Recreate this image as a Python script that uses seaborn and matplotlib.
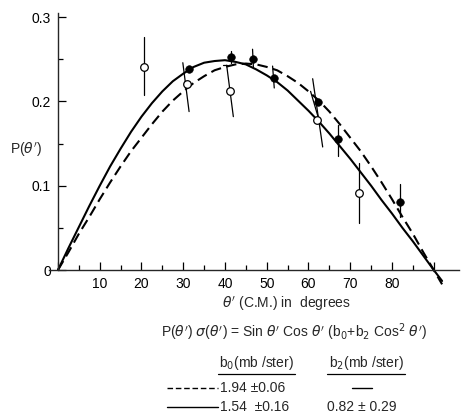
"""Angular distribution P(theta') with two fitted curves."""
import matplotlib.pyplot as plt
from matplotlib.lines import Line2D
import pandas as pd
import seaborn as sns

# fitted curves
theta_curve = [0, 2.5, 5, 7.5, 10, 12.5, 15, 17.5, 20, 22.5, 25, 27.5, 30, 32.5,
               35, 37.5, 40, 42.5, 45, 47.5, 50, 52.5, 55, 57.5, 60, 62.5, 65,
               67.5, 70, 72.5, 75, 77.5, 80, 82.5, 85, 87.5, 90, 92]
p_solid = [0, 0.026, 0.051, 0.076, 0.100, 0.123, 0.144, 0.164, 0.182, 0.198,
           0.212, 0.224, 0.233, 0.241, 0.246, 0.248, 0.249, 0.247, 0.244, 0.238,
           0.231, 0.223, 0.213, 0.201, 0.189, 0.176, 0.162, 0.147, 0.132, 0.116,
           0.100, 0.083, 0.067, 0.050, 0.034, 0.017, 0, -0.013]
p_dashed = [0, 0.021, 0.043, 0.063, 0.084, 0.104, 0.123, 0.141, 0.157, 0.173,
            0.188, 0.201, 0.212, 0.222, 0.230, 0.237, 0.241, 0.244, 0.245, 0.244,
            0.241, 0.237, 0.230, 0.222, 0.212, 0.201, 0.188, 0.173, 0.157, 0.141,
            0.123, 0.104, 0.084, 0.063, 0.043, 0.021, 0, -0.017]

# measured points
theta_open = [20.6, 30.9, 41.2, 62.0, 72.0]
p_open = [0.241, 0.221, 0.213, 0.178, 0.091]
theta_filled = [31.3, 41.4, 46.7, 51.7, 62.3, 67.0, 81.8]
p_filled = [0.238, 0.253, 0.250, 0.228, 0.199, 0.155, 0.081]

# error segments: (theta top, P top) -> (theta bottom, P bottom)
err_theta_top = [20.6, 29.9, 40.4, 39.6, 41.4, 46.6, 51.4, 61.0, 60.5, 67.0, 72.0, 81.8]
err_p_top = [0.276, 0.246, 0.243, 0.243, 0.260, 0.262, 0.242, 0.227, 0.212, 0.172, 0.127, 0.102]
err_theta_bot = [20.6, 31.4, 42.0, 40.6, 41.4, 46.8, 51.8, 63.4, 62.7, 67.0, 72.0, 81.8]
err_p_bot = [0.208, 0.188, 0.182, 0.243, 0.246, 0.241, 0.216, 0.146, 0.175, 0.135, 0.056, 0.063]

x_ticks = [0, 10, 20, 30, 40, 50, 60, 70, 80, 90]
x_labels = ["", "10", "20", "30", "40", "50", "60", "70", "80", ""]
y_ticks = [0, 0.1, 0.2, 0.3]
y_labels = ["0", "0.1", "0.2", "0.3"]

sns.set_theme(style="ticks")
plt.rcParams["font.family"] = ["Liberation Sans", "DejaVu Sans"]
plt.rcParams["mathtext.fontset"] = "dejavusans"

curves = pd.DataFrame({
    "theta": theta_curve * 2,
    "P": p_solid + p_dashed,
    "fit": ["b0+b2"] * len(theta_curve) + ["b0"] * len(theta_curve),
})

fig = plt.figure(figsize=(4.61, 4.17), dpi=100)
ax = fig.add_axes([48.8 / 461, 147 / 417, 410 / 461, 257 / 417])

sns.lineplot(data=curves, x="theta", y="P", style="fit",
             dashes={"b0+b2": "", "b0": (5, 2.6)}, color="black",
             linewidth=1.5, legend=False, sort=False, ax=ax)
for line in ax.lines:
    line.set_clip_on(False)

for xt, yt, xb, yb in zip(err_theta_top, err_p_top, err_theta_bot, err_p_bot):
    ax.plot([xt, xb], [yt, yb], color="black", lw=0.9, clip_on=False)

sns.scatterplot(x=theta_filled, y=p_filled, color="black", edgecolor="black",
                s=30, zorder=3, ax=ax)
sns.scatterplot(x=theta_open, y=p_open, color="white", edgecolor="black",
                linewidth=0.9, s=30, zorder=3, ax=ax)

ax.set_xlim(-2.2, 96)
ax.set_ylim(0, 0.305)
ax.spines["left"].set_position(("data", 0))
ax.spines["top"].set_visible(False)
ax.spines["right"].set_visible(False)
for s in ("left", "bottom"):
    ax.spines[s].set_linewidth(1.0)
ax.set_xticks(x_ticks, x_labels)
ax.set_xticks([5, 15, 25, 35, 45, 55, 65, 75, 85], minor=True)
ax.set_yticks(y_ticks, y_labels)
ax.set_yticks([0.05, 0.15, 0.25], minor=True)
ax.tick_params(which="both", direction="in", color="black", width=0.9,
               labelsize=10, labelcolor="black")
ax.tick_params(which="major", length=6, pad=5)
ax.tick_params(which="minor", length=3.5)
ax.set_xlabel("")
ax.set_ylabel("")

fig.text(26 / 461, 1 - 150 / 417, r"P($\theta'$)", fontsize=10,
         ha="center", va="center")
fig.text(286 / 461, 1 - 304 / 417, r"$\theta'$ (C.M.) in  degrees",
         fontsize=10, ha="center", va="center")
fig.text(294 / 461, 1 - 332 / 417,
         r"P($\theta'$) $\sigma$($\theta'$) = Sin $\theta'$ Cos $\theta'$"
         r" (b$_0$+b$_2$ Cos$^2$ $\theta'$)",
         fontsize=10, ha="center", va="center")

# fit parameter table
fig.text(256 / 461, 1 - 363 / 417, r"b$_0$(mb /ster)", fontsize=10,
         ha="center", va="center")
fig.text(366 / 461, 1 - 363 / 417, r"b$_2$(mb /ster)", fontsize=10,
         ha="center", va="center")
for x0, x1 in ((218, 295), (327, 405)):
    fig.add_artist(Line2D([x0 / 461, x1 / 461], [1 - 374 / 417] * 2,
                          color="black", lw=0.9))
fig.add_artist(Line2D([167 / 461, 218 / 461], [1 - 388 / 417] * 2,
                      color="black", lw=1.0, dashes=(4, 2)))
fig.add_artist(Line2D([167 / 461, 218 / 461], [1 - 407 / 417] * 2,
                      color="black", lw=1.0))
fig.add_artist(Line2D([352 / 461, 372 / 461], [1 - 388 / 417] * 2,
                      color="black", lw=1.0))
fig.text(220 / 461, 1 - 388 / 417, "1.94 ±0.06", fontsize=10, va="center")
fig.text(220 / 461, 1 - 407 / 417, "1.54  ±0.16", fontsize=10, va="center")
fig.text(327 / 461, 1 - 407 / 417, "0.82 ± 0.29", fontsize=10, va="center")

fig.savefig("out.png", dpi=100)
